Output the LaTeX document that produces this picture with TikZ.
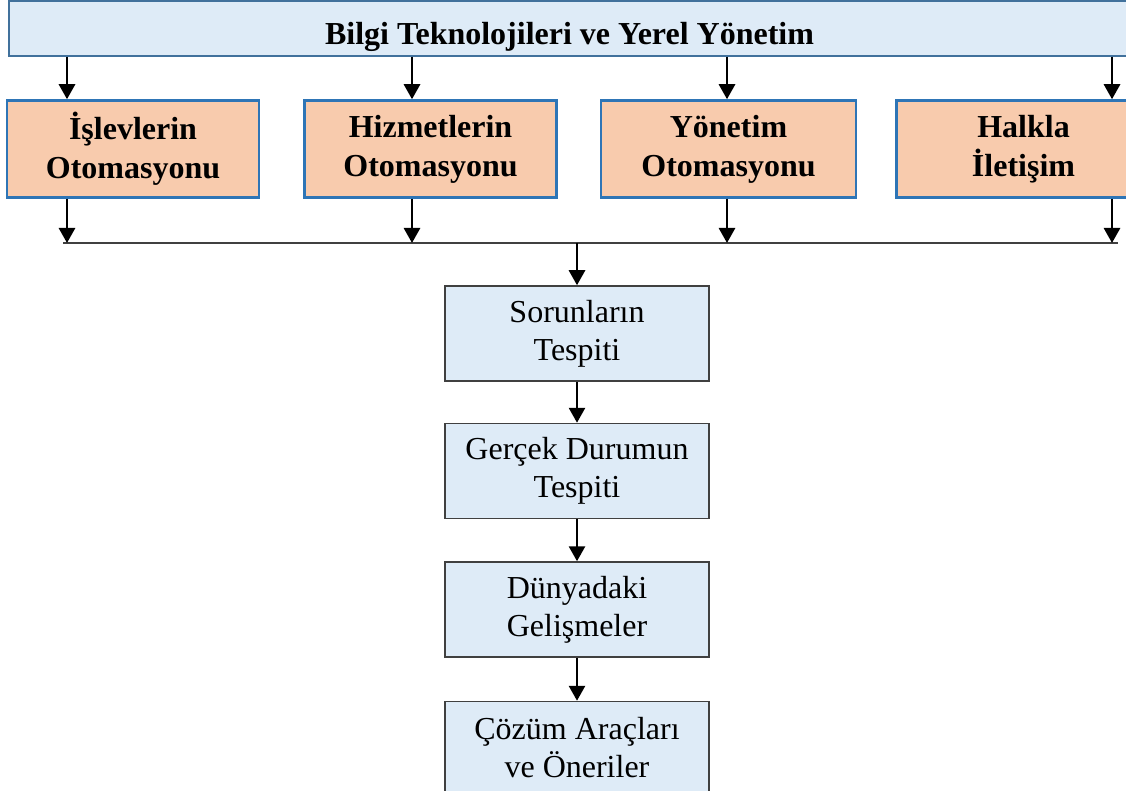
\documentclass[tikz,border=0pt]{standalone}
\usepackage{fontspec}
\setmainfont{Liberation Serif}
\usetikzlibrary{positioning,arrows.meta}

\definecolor{barblue}{HTML}{DEEBF7}
\definecolor{barline}{HTML}{41719C}
\definecolor{peach}{HTML}{F8CBAD}
\definecolor{peachline}{HTML}{2E75B6}
\definecolor{boxline}{HTML}{404040}

\newcommand{\boxstrut}{\rule[-4pt]{0pt}{31pt}}

\tikzset{
  headbar/.style={draw=barline, line width=1.5pt, fill=barblue,
    minimum width=1121pt, minimum height=55pt, inner sep=0pt,
    font=\bfseries\fontsize{32}{38}\selectfont, text height=33pt, text depth=0pt},
  areabox/.style={draw=peachline, line width=2.5pt, fill=peach,
    minimum width=252pt, minimum height=97pt, inner sep=0pt, align=center,
    font=\bfseries\fontsize{32}{39}\selectfont,
    execute at begin node=\boxstrut, execute at end node=\boxstrut},
  stepbox/.style={draw=boxline, line width=1.5pt, fill=barblue,
    minimum width=264pt, minimum height=95pt, inner sep=0pt, align=center,
    font=\fontsize{32}{38}\selectfont,
    execute at begin node=\boxstrut, execute at end node=\boxstrut},
  arr/.style={-{Triangle[length=15pt,width=16pt]}, line width=2.8pt},
  busline/.style={draw=boxline, line width=1.6pt},
}

\begin{document}
\begin{tikzpicture}[x=1pt,y=1pt]
  \clip (0,0) rectangle (1126,-791);

  \node[headbar] (head) at (569.5,-28.5) {Bilgi Teknolojileri ve Yerel Yönetim};

  \node[areabox] (a1) at (133,-149) {İşlevlerin\\Otomasyonu};
  \node[areabox, right=43pt of a1] (a2) {Hizmetlerin\\Otomasyonu};
  \node[areabox, right=42pt of a2, minimum width=255pt] (a3) {Yönetim\\Otomasyonu};
  \node[areabox, right=38pt of a3, minimum width=254pt] (a4) {Halkla\\İletişim};

  % collecting line
  \coordinate (busL) at (63,-243);
  \coordinate (busR) at (1118,-243);
  \coordinate (tap1) at (67,-243);
  \coordinate (tap2) at (412,-243);
  \coordinate (tap3) at (727,-243);
  \coordinate (tap4) at (1112,-243);
  \coordinate (tap5) at (577,-243);

  \node[stepbox] (s1) at (577,-333.5) {Sorunların\\Tespiti};
  \node[stepbox, below=41pt of s1] (s2) {Gerçek Durumun\\Tespiti};
  \node[stepbox, below=42pt of s2] (s3) {Dünyadaki\\Gelişmeler};
  \node[stepbox, below=43pt of s3] (s4) {Çözüm Araçları\\ve Öneriler};

  \draw[busline] (busL) -- (busR);

  \draw[arr]
   (head.south -| tap1) edge (a1.north -| tap1)
   (head.south -| tap2) edge (a2.north -| tap2)
   (head.south -| tap3) edge (a3.north -| tap3)
   (head.south -| tap4) edge (a4.north -| tap4)
   (a1.south -| tap1) edge (tap1)
   (a2.south -| tap2) edge (tap2)
   (a3.south -| tap3) edge (tap3)
   (a4.south -| tap4) edge (tap4)
   (tap5) edge (s1)
   (s1) edge (s2)
   (s2) edge (s3)
   (s3) to (s4);
\end{tikzpicture}
\end{document}
